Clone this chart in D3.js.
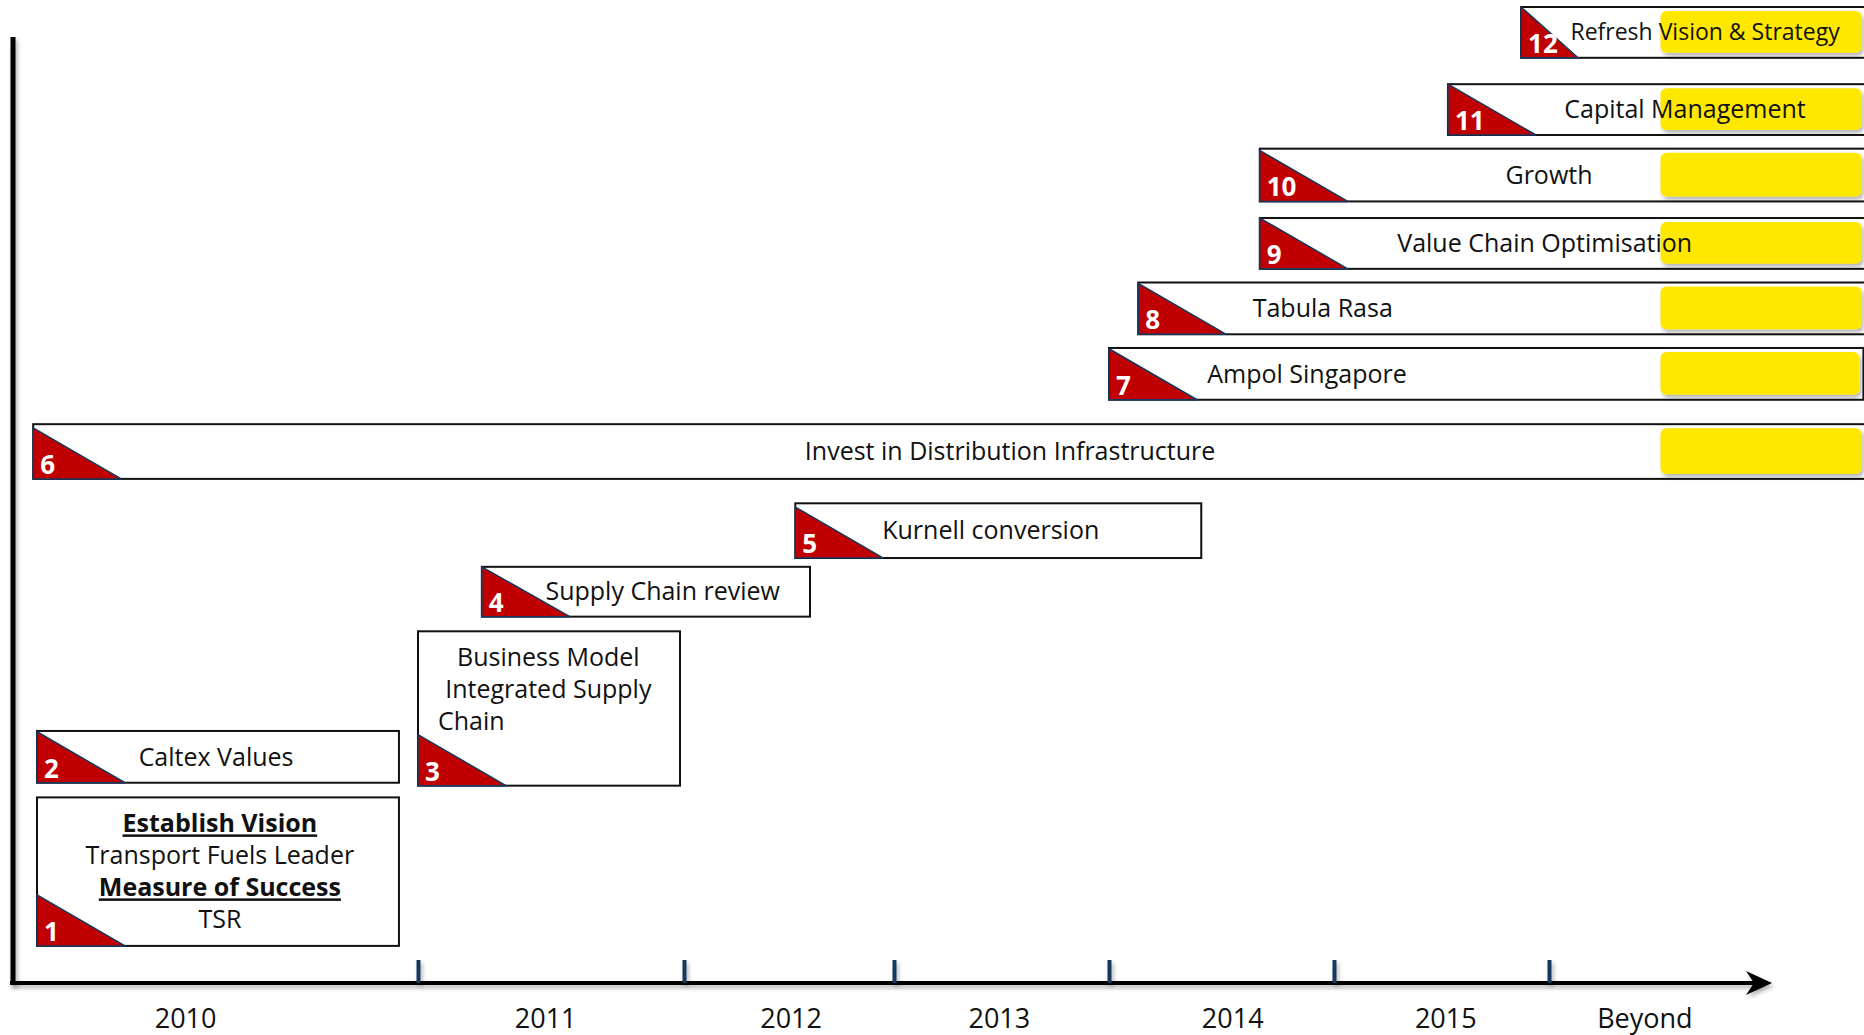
<!DOCTYPE html>
<html>
<head>
<meta charset="utf-8">
<script src="https://cdn.jsdelivr.net/npm/d3@7"></script>
<style>
  body { margin: 0; background: #fff; }
  svg { display: block; }
  text { font-family: "Segoe UI", "Open Sans", sans-serif; }
</style>
</head>
<body>
<script>
// timeline: start of each year, ticks between the years, labels under the axis
const yearBounds = [2010, 2011, 2012, 2013, 2014, 2015, 2016, 2017];
const tickYears = [2011, 2012, 2013, 2014, 2015, 2016];
const yearLabels = ["2010", "2011", "2012", "2013", "2014", "2015", "Beyond"];
const yearLabelAt = [2010.39, 2011.48, 2012.51, 2013.49, 2014.55, 2015.52, 2016.43];

// initiatives: start / end in years, bottom / top in % of chart height
const ids     = [1, 2, 3, 4, 5, 6, 7, 8, 9, 10, 11, 12];
const starts  = [2010.0, 2010.0, 2011.0, 2011.24, 2012.53, 2009.99, 2014.0, 2014.13, 2014.67, 2014.67, 2015.53, 2015.87];
const ends    = [2010.95, 2010.95, 2011.985, 2012.6, 2014.41, 2017.42, 2017.41, 2017.42, 2017.42, 2017.42, 2017.42, 2017.42];
const bottoms = [3.9, 20.6, 20.3, 37.6, 43.6, 51.7, 59.8, 66.5, 73.2, 80.1, 86.9, 94.8];
const tops    = [19.1, 25.9, 36.1, 42.7, 49.2, 57.3, 65.1, 71.8, 78.4, 85.5, 92.1, 100];
const labelAt = [2010.48, 2010.47, 2011.49, 2011.92, 2013.45, 2013.54, 2014.88, 2014.95, 2015.98, 2016.0, 2016.61, 2016.7];
const labels = [
  ["Establish Vision", "Transport Fuels Leader", "Measure of Success", "TSR"],
  ["Caltex Values"],
  ["Business Model", "Integrated Supply", "Chain"],
  ["Supply Chain review"],
  ["Kurnell conversion"],
  ["Invest in Distribution Infrastructure"],
  ["Ampol Singapore"],
  ["Tabula Rasa"],
  ["Value Chain Optimisation"],
  ["Growth"],
  ["Capital Management"],
  ["Refresh Vision & Strategy"]
];
const headings = ["Establish Vision", "Measure of Success"];
const leftLines = ["Chain"];

// initiatives still running "Beyond" get a yellow highlight
const beyondIds = [6, 7, 8, 9, 10, 11, 12];
const beyondStart = 2016.5;

const width = 1864, height = 1035;
const axisY = 983;

const items = ids.map((id, i) => ({
  id, start: starts[i], end: ends[i], bottom: bottoms[i], top: tops[i],
  labelAt: labelAt[i], lines: labels[i], beyond: beyondIds.includes(id)
}));

const x = d3.scaleLinear()
  .domain(yearBounds)
  .range([37, 418, 684, 894, 1109, 1334, 1549, 1772]);

const y = d3.scaleLinear()
  .domain([0, 100])
  .range([axisY + 1, 7]);

const svg = d3.select("body")
  .append("svg")
  .attr("width", width)
  .attr("height", height);

const defs = svg.append("defs");
const shadow = defs.append("filter")
  .attr("id", "shadow")
  .attr("filterUnits", "userSpaceOnUse")
  .attr("x", -3000).attr("y", -3000)
  .attr("width", 6000).attr("height", 6000);
shadow.append("feDropShadow")
  .attr("dx", 2).attr("dy", 3)
  .attr("stdDeviation", 2)
  .attr("flood-color", "#000")
  .attr("flood-opacity", 0.3);

// vertical axis
svg.append("line")
  .attr("x1", 13).attr("x2", 13)
  .attr("y1", 37).attr("y2", axisY + 2)
  .attr("stroke", "#000")
  .attr("stroke-width", 5)
  .attr("filter", "url(#shadow)");

// horizontal axis with arrow
const tip = x(2017);
svg.append("line")
  .attr("x1", 10).attr("x2", tip - 12)
  .attr("y1", axisY).attr("y2", axisY)
  .attr("stroke", "#000")
  .attr("stroke-width", 4)
  .attr("filter", "url(#shadow)");

svg.append("path")
  .attr("d", `M${tip},${axisY} L${tip - 26},${axisY - 12} L${tip - 18},${axisY} L${tip - 26},${axisY + 12} Z`)
  .attr("fill", "#000")
  .attr("filter", "url(#shadow)");

// year ticks
const tickAxis = svg.append("g")
  .attr("transform", `translate(0, ${axisY})`)
  .call(d3.axisTop(x)
    .tickValues(tickYears)
    .tickSize(23)
    .tickFormat(""));
tickAxis.select(".domain").remove();
tickAxis.selectAll(".tick line")
  .attr("stroke", "#17375E")
  .attr("stroke-width", 4)
  .attr("filter", "url(#shadow)");

// year labels
svg.selectAll("text.year")
  .data(yearLabels)
  .join("text")
  .attr("class", "year")
  .attr("x", (d, i) => x(yearLabelAt[i]))
  .attr("y", 1028)
  .attr("text-anchor", "middle")
  .attr("font-size", "27px")
  .attr("fill", "#111")
  .text(d => d);

// initiative boxes
const g = svg.selectAll("g.item")
  .data(items)
  .join("g")
  .attr("class", "item");

g.append("rect")
  .attr("x", d => x(d.start))
  .attr("y", d => y(d.top))
  .attr("width", d => x(d.end) - x(d.start))
  .attr("height", d => y(d.bottom) - y(d.top))
  .attr("fill", "#fff")
  .attr("stroke", "#111")
  .attr("stroke-width", 2);

g.filter(d => d.beyond)
  .append("rect")
  .attr("x", x(beyondStart))
  .attr("y", d => y(d.top) + 4)
  .attr("width", d => x(d.end) - x(beyondStart) - 4)
  .attr("height", d => y(d.bottom) - y(d.top) - 9)
  .attr("rx", 6)
  .attr("fill", "#FFE800")
  .attr("filter", "url(#shadow)");

// red corner triangles
g.append("path")
  .attr("d", d => {
    const x0 = x(d.start), yb = y(d.bottom);
    const h = Math.min(yb - y(d.top), 51);
    const w = d.id === 12 ? 57 : 88;
    return `M${x0},${yb - h} L${x0 + w},${yb} L${x0},${yb} Z`;
  })
  .attr("fill", "#C00000")
  .attr("stroke", "#17375E")
  .attr("stroke-width", 1.5)
  .attr("stroke-linejoin", "round");

// labels
g.each(function(d) {
  const sel = d3.select(this);
  if (d.lines.length === 1) {
    sel.append("text")
      .attr("x", x(d.labelAt))
      .attr("y", (y(d.top) + y(d.bottom)) / 2)
      .attr("dy", "0.35em")
      .attr("text-anchor", "middle")
      .attr("font-size", d.id === 12 ? "23px" : "25px")
      .attr("fill", "#111")
      .text(d.lines[0]);
  } else {
    d.lines.forEach((t, i) => {
      const left = leftLines.includes(t);
      const head = headings.includes(t);
      sel.append("text")
        .attr("x", left ? x(d.start) + 20 : x(d.labelAt))
        .attr("y", y(d.top) + 35 + i * 32)
        .attr("text-anchor", left ? "start" : "middle")
        .attr("font-size", "25px")
        .attr("font-weight", head ? "bold" : "normal")
        .style("text-decoration", head ? "underline" : "none")
        .attr("fill", "#111")
        .text(t);
    });
  }
});

// numbers in the triangles
g.append("text")
  .attr("x", d => x(d.start) + 7)
  .attr("y", d => y(d.bottom) - 5)
  .attr("font-size", "26px")
  .attr("font-weight", "bold")
  .attr("fill", "#fff")
  .text(d => d.id);
</script>
</body>
</html>
